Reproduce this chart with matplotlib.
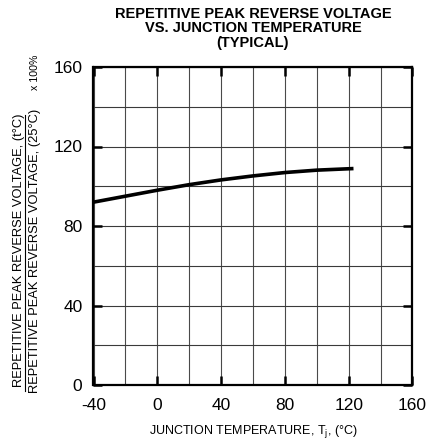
import matplotlib
matplotlib.use("Agg")
import matplotlib.pyplot as plt
from matplotlib import font_manager as fm
import os

temps = [-40, -20, 0, 20, 40, 60, 80, 100, 120, 123]
ratio = [92.0, 95.0, 98.0, 100.8, 103.2, 105.2, 106.9, 108.1, 108.8, 108.9]

x_ticks = [-40, 0, 40, 80, 120, 160]
y_ticks = [0, 40, 80, 120, 160]
x_minor = [-20, 20, 60, 100, 140]
y_minor = [20, 60, 100, 140]

reg_path = None
bold_path = None
for p in fm.findSystemFonts():
    b = os.path.basename(p)
    if b == 'LiberationSans-Regular.ttf':
        reg_path = p
    elif b == 'LiberationSans-Bold.ttf':
        bold_path = p
if reg_path:
    fm.fontManager.addfont(reg_path)
if bold_path:
    fm.fontManager.addfont(bold_path)

plt.rcParams['font.family'] = ['Liberation Sans', 'DejaVu Sans']
plt.rcParams['axes.unicode_minus'] = False

def fp(size, bold=False):
    path = bold_path if bold else reg_path
    if path:
        return fm.FontProperties(fname=path, size=size)
    return fm.FontProperties(family='Liberation Sans', size=size,
                             weight='bold' if bold else 'normal')

W, H = 435, 445
fig = plt.figure(figsize=(W/100, H/100), dpi=100)
ax = fig.add_axes([93.5/W, 1-385/H, (412.5-93.5)/W, (385-67)/H])

ax.set_xlim(-40, 160)
ax.set_ylim(0, 160)
for v in x_ticks + x_minor:
    ax.axvline(v, color='#4a4a4a', lw=0.8, zorder=1)
for v in y_ticks + y_minor:
    ax.axhline(v, color='#3a3a3a', lw=0.8, zorder=1)

ax.plot(temps, ratio, color='black', lw=2.6, solid_capstyle='butt', zorder=3)

ax.set_xticks(x_ticks)
ax.set_yticks(y_ticks)
ax.tick_params(axis='both', direction='in', length=6.5, width=1.8,
               top=True, right=True)
ax.tick_params(axis='x', pad=9)
ax.tick_params(axis='y', pad=8)
for lab in ax.get_xticklabels() + ax.get_yticklabels():
    lab.set_fontproperties(fp(12.5))
for s in ax.spines.values():
    s.set_linewidth(1.6)

tx = 253/W
tsize = 10.5
fig.text(tx, 1-17.7/H, "REPETITIVE PEAK REVERSE VOLTAGE", ha='center', va='baseline',
         fontproperties=fp(tsize, True))
fig.text(tx, 1-32.4/H, "VS. JUNCTION TEMPERATURE", ha='center', va='baseline',
         fontproperties=fp(tsize, True))
fig.text(tx, 1-47.1/H, "(TYPICAL)", ha='center', va='baseline',
         fontproperties=fp(tsize, True))

fig.text(253/W, 1-434/H, "JUNCTION TEMPERATURE, T$_\\mathregular{j}$, (°C)",
         ha='center', va='baseline', fontproperties=fp(9))

fig.text(21.7/W, 1-250.5/H, "REPETITIVE PEAK REVERSE VOLTAGE, (t°C)", rotation=90,
         rotation_mode='anchor', ha='center', va='baseline', fontproperties=fp(9.3))
fig.text(38.3/W, 1-250.5/H, "REPETITIVE PEAK REVERSE VOLTAGE, (25°C)", rotation=90,
         rotation_mode='anchor', ha='center', va='baseline', fontproperties=fp(9.3))
fig.add_artist(plt.Line2D([25/W, 25/W], [1-391/H, 1-115/H], color='black', lw=0.8,
                          transform=fig.transFigure))
fig.text(37.7/W, 1-72.5/H, "x 100%", rotation=90, rotation_mode='anchor',
         ha='center', va='baseline', fontproperties=fp(7.7))

fig.savefig("out.png", dpi=100)
